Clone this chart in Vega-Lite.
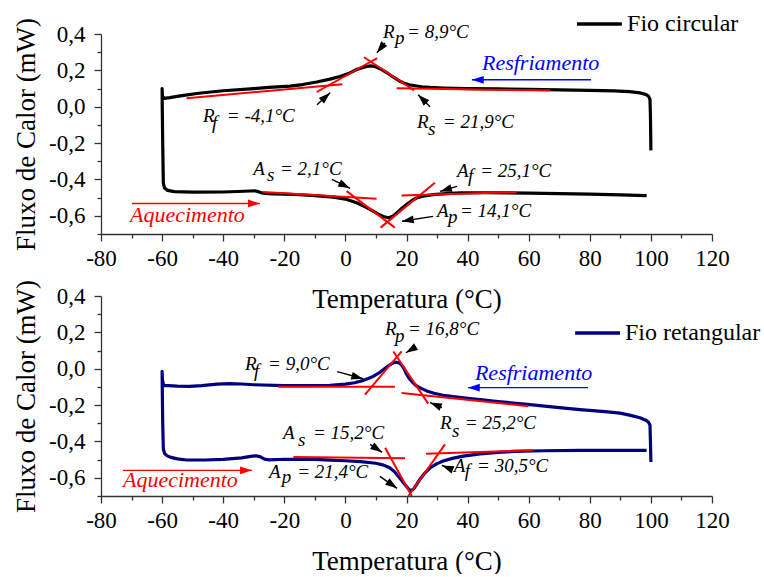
{
  "$schema": "https://vega.github.io/schema/vega-lite/v6.json",
  "padding": {"left": 12, "top": 11, "right": 0, "bottom": 0},
  "bounds": "flush",
  "spacing": 62,
  "config": {
    "locale": {"number": {"decimal": ",", "thousands": ".", "grouping": [3], "currency": ["", ""], "minus": "-"}},
    "view": {"stroke": null},
    "axis": {"labelFont": "Liberation Serif", "titleFont": "Liberation Serif", "labelFontSize": 23, "titleFontSize": 27, "titleFontWeight": "normal", "labelColor": "#000", "titleColor": "#000", "domainColor": "#333", "tickColor": "#333", "domainWidth": 1.3, "tickWidth": 1.3, "grid": false, "labelFlush": false, "labelOverlap": false, "tickCount": 100}
  },
  "datasets": {
    "c1": [
      {"i":1,"x":100,"y":-0.24},{"i":2,"x":99.85,"y":-0.05},{"i":3,"x":99.7,"y":0.04},{"i":4,"x":99.2,"y":0.058},{"i":5,"x":98.3,"y":0.068},{"i":6,"x":96.4,"y":0.076},{"i":7,"x":93,"y":0.083},{"i":8,"x":88,"y":0.087},{"i":9,"x":80,"y":0.09},{"i":10,"x":70,"y":0.093},{"i":11,"x":60,"y":0.096},{"i":12,"x":50,"y":0.098},{"i":13,"x":40,"y":0.1},{"i":14,"x":32,"y":0.103},{"i":15,"x":27.7,"y":0.106},{"i":16,"x":25,"y":0.11},{"i":17,"x":23.3,"y":0.114},{"i":18,"x":21,"y":0.12},{"i":19,"x":19.5,"y":0.127},{"i":20,"x":17.9,"y":0.14},{"i":21,"x":15.5,"y":0.165},{"i":22,"x":13.5,"y":0.188},{"i":23,"x":11.5,"y":0.208},{"i":24,"x":9.7,"y":0.221},{"i":25,"x":8.5,"y":0.225},{"i":26,"x":7,"y":0.222},{"i":27,"x":5.5,"y":0.215},{"i":28,"x":3.7,"y":0.205},{"i":29,"x":1,"y":0.182},{"i":30,"x":-1.8,"y":0.166},{"i":31,"x":-5,"y":0.152},{"i":32,"x":-9.4,"y":0.136},{"i":33,"x":-14,"y":0.122},{"i":34,"x":-18.1,"y":0.113},{"i":35,"x":-25,"y":0.106},{"i":36,"x":-30,"y":0.1},{"i":37,"x":-40,"y":0.088},{"i":38,"x":-48,"y":0.074},{"i":39,"x":-54,"y":0.06},{"i":40,"x":-57.5,"y":0.05},{"i":41,"x":-59.3,"y":0.046},{"i":42,"x":-59.9,"y":0.06},{"i":43,"x":-60,"y":0.1},{"i":44,"x":-59.95,"y":0.0},{"i":45,"x":-59.8,"y":-0.2},{"i":46,"x":-59.6,"y":-0.42},{"i":47,"x":-59.2,"y":-0.447},{"i":48,"x":-58.2,"y":-0.46},{"i":49,"x":-56,"y":-0.467},{"i":50,"x":-50,"y":-0.47},{"i":51,"x":-40,"y":-0.469},{"i":52,"x":-33,"y":-0.465},{"i":53,"x":-29.7,"y":-0.462},{"i":54,"x":-28.5,"y":-0.467},{"i":55,"x":-27,"y":-0.476},{"i":56,"x":-24,"y":-0.479},{"i":57,"x":-20,"y":-0.481},{"i":58,"x":-14.9,"y":-0.484},{"i":59,"x":-10,"y":-0.489},{"i":60,"x":-4,"y":-0.497},{"i":61,"x":0,"y":-0.508},{"i":62,"x":3.7,"y":-0.528},{"i":63,"x":6.5,"y":-0.55},{"i":64,"x":9.1,"y":-0.574},{"i":65,"x":11,"y":-0.593},{"i":66,"x":12.4,"y":-0.604},{"i":67,"x":14.1,"y":-0.611},{"i":68,"x":15.5,"y":-0.603},{"i":69,"x":16.8,"y":-0.584},{"i":70,"x":18.5,"y":-0.558},{"i":71,"x":20.1,"y":-0.537},{"i":72,"x":21.7,"y":-0.517},{"i":73,"x":23.3,"y":-0.502},{"i":74,"x":26,"y":-0.49},{"i":75,"x":28.8,"y":-0.483},{"i":76,"x":33,"y":-0.478},{"i":77,"x":37.5,"y":-0.474},{"i":78,"x":45,"y":-0.473},{"i":79,"x":60,"y":-0.475},{"i":80,"x":70,"y":-0.478},{"i":81,"x":80,"y":-0.481},{"i":82,"x":90,"y":-0.485},{"i":83,"x":98.6,"y":-0.489}
    ],
    "c2": [
      {"i":1,"x":100,"y":-0.513},{"i":2,"x":99.85,"y":-0.4},{"i":3,"x":99.7,"y":-0.31},{"i":4,"x":99.2,"y":-0.294},{"i":5,"x":98.5,"y":-0.285},{"i":6,"x":96.4,"y":-0.27},{"i":7,"x":93,"y":-0.255},{"i":8,"x":89.9,"y":-0.244},{"i":9,"x":85,"y":-0.236},{"i":10,"x":76.8,"y":-0.225},{"i":11,"x":70,"y":-0.214},{"i":12,"x":60.4,"y":-0.197},{"i":13,"x":50,"y":-0.181},{"i":14,"x":44.1,"y":-0.17},{"i":15,"x":40.8,"y":-0.164},{"i":16,"x":36,"y":-0.155},{"i":17,"x":32,"y":-0.146},{"i":18,"x":29,"y":-0.135},{"i":19,"x":26.6,"y":-0.122},{"i":20,"x":24.8,"y":-0.108},{"i":21,"x":23.3,"y":-0.095},{"i":22,"x":22.2,"y":-0.078},{"i":23,"x":21.1,"y":-0.058},{"i":24,"x":20,"y":-0.03},{"i":25,"x":19.2,"y":0.0},{"i":26,"x":18.4,"y":0.02},{"i":27,"x":17.5,"y":0.033},{"i":28,"x":16.8,"y":0.036},{"i":29,"x":15.8,"y":0.033},{"i":30,"x":15.2,"y":0.028},{"i":31,"x":14,"y":0.015},{"i":32,"x":13,"y":0.003},{"i":33,"x":11,"y":-0.023},{"i":34,"x":9.1,"y":-0.042},{"i":35,"x":7.5,"y":-0.054},{"i":36,"x":5.9,"y":-0.064},{"i":37,"x":3,"y":-0.077},{"i":38,"x":0,"y":-0.085},{"i":39,"x":-5,"y":-0.091},{"i":40,"x":-10,"y":-0.093},{"i":41,"x":-20,"y":-0.093},{"i":42,"x":-30,"y":-0.088},{"i":43,"x":-34,"y":-0.084},{"i":44,"x":-38,"y":-0.082},{"i":45,"x":-42,"y":-0.085},{"i":46,"x":-47,"y":-0.093},{"i":47,"x":-51,"y":-0.097},{"i":48,"x":-55,"y":-0.096},{"i":49,"x":-58,"y":-0.093},{"i":50,"x":-59.5,"y":-0.092},{"i":51,"x":-59.9,"y":-0.06},{"i":52,"x":-60,"y":-0.015},{"i":53,"x":-59.95,"y":-0.1},{"i":54,"x":-59.8,"y":-0.3},{"i":55,"x":-59.6,"y":-0.44},{"i":56,"x":-59.2,"y":-0.466},{"i":57,"x":-58.4,"y":-0.478},{"i":58,"x":-57.4,"y":-0.486},{"i":59,"x":-55,"y":-0.496},{"i":60,"x":-52,"y":-0.502},{"i":61,"x":-46,"y":-0.502},{"i":62,"x":-40,"y":-0.499},{"i":63,"x":-34,"y":-0.49},{"i":64,"x":-30.5,"y":-0.481},{"i":65,"x":-29.2,"y":-0.479},{"i":66,"x":-27.8,"y":-0.485},{"i":67,"x":-26.5,"y":-0.497},{"i":68,"x":-25,"y":-0.501},{"i":69,"x":-20,"y":-0.498},{"i":70,"x":-10,"y":-0.499},{"i":71,"x":-5,"y":-0.503},{"i":72,"x":0,"y":-0.506},{"i":73,"x":5,"y":-0.511},{"i":74,"x":10,"y":-0.52},{"i":75,"x":12.5,"y":-0.53},{"i":76,"x":14.5,"y":-0.545},{"i":77,"x":16,"y":-0.565},{"i":78,"x":17.5,"y":-0.595},{"i":79,"x":19,"y":-0.627},{"i":80,"x":20.5,"y":-0.658},{"i":81,"x":21.4,"y":-0.672},{"i":82,"x":22.4,"y":-0.66},{"i":83,"x":23.4,"y":-0.635},{"i":84,"x":24.4,"y":-0.608},{"i":85,"x":26,"y":-0.574},{"i":86,"x":27.7,"y":-0.545},{"i":87,"x":30,"y":-0.522},{"i":88,"x":32,"y":-0.508},{"i":89,"x":35,"y":-0.493},{"i":90,"x":38.6,"y":-0.481},{"i":91,"x":44.1,"y":-0.468},{"i":92,"x":50,"y":-0.46},{"i":93,"x":55,"y":-0.455},{"i":94,"x":65,"y":-0.451},{"i":95,"x":76.8,"y":-0.449},{"i":96,"x":90,"y":-0.449},{"i":97,"x":98.6,"y":-0.449}
    ],
    "t1": [
      {"x":-52,"y":0.046,"x2":-1,"y2":0.124},
      {"x":-9.4,"y":0.081,"x2":10.4,"y2":0.267},
      {"x":6.1,"y":0.272,"x2":22.5,"y2":0.09},
      {"x":16.8,"y":0.102,"x2":67,"y2":0.089},
      {"x":-27,"y":-0.469,"x2":10.2,"y2":-0.506},
      {"x":0.4,"y":-0.464,"x2":16.2,"y2":-0.665},
      {"x":11.5,"y":-0.665,"x2":29.3,"y2":-0.418},
      {"x":18.4,"y":-0.488,"x2":56.1,"y2":-0.469}
    ],
    "t2": [
      {"x":-22,"y":-0.099,"x2":16.2,"y2":-0.099},
      {"x":6.4,"y":-0.142,"x2":18.4,"y2":0.095},
      {"x":15.7,"y":0.095,"x2":27.1,"y2":-0.192},
      {"x":18.4,"y":-0.133,"x2":59.9,"y2":-0.206},
      {"x":-17,"y":-0.486,"x2":19.5,"y2":-0.493},
      {"x":13,"y":-0.435,"x2":21.7,"y2":-0.7},
      {"x":20.6,"y":-0.7,"x2":32.6,"y2":-0.416},
      {"x":26.4,"y":-0.467,"x2":61.5,"y2":-0.448}
    ],
    "n1": [
      {"x":12.3,"y":0.378,"t":"R"},{"x":16.2,"y":0.345,"t":"p"},{"x":20.2,"y":0.378,"t":"= 8,9°C"},
      {"x":-46.6,"y":-0.082,"t":"R"},{"x":-43.7,"y":-0.121,"t":"f"},{"x":-38.8,"y":-0.082,"t":"= -4,1°C"},
      {"x":23.4,"y":-0.115,"t":"R"},{"x":27.0,"y":-0.153,"t":"s"},{"x":31.9,"y":-0.115,"t":"= 21,9°C"},
      {"x":-30.2,"y":-0.373,"t":"A"},{"x":-25.7,"y":-0.411,"t":"s"},{"x":-21.4,"y":-0.373,"t":"= 2,1°C"},
      {"x":36.5,"y":-0.384,"t":"A"},{"x":40.1,"y":-0.416,"t":"f"},{"x":44.1,"y":-0.384,"t":"= 25,1°C"},
      {"x":30.0,"y":-0.608,"t":"A"},{"x":33.6,"y":-0.641,"t":"p"},{"x":37.5,"y":-0.608,"t":"= 14,1°C"}
    ],
    "n2": [
      {"x":12.96,"y":0.186,"t":"R"},{"x":16.2,"y":0.148,"t":"p"},{"x":20.5,"y":0.186,"t":"= 16,8°C"},
      {"x":-32.9,"y":-0.005,"t":"R"},{"x":-29.9,"y":-0.044,"t":"f"},{"x":-25.3,"y":-0.005,"t":"= 9,0°C"},
      {"x":31.0,"y":-0.334,"t":"R"},{"x":34.9,"y":-0.373,"t":"s"},{"x":39.1,"y":-0.334,"t":"= 25,2°C"},
      {"x":-20.4,"y":-0.389,"t":"A"},{"x":-15.5,"y":-0.427,"t":"s"},{"x":-10.6,"y":-0.389,"t":"= 15,2°C"},
      {"x":-25.0,"y":-0.603,"t":"A"},{"x":-20.8,"y":-0.63,"t":"p"},{"x":-15.8,"y":-0.603,"t":"= 21,4°C"},
      {"x":35.5,"y":-0.57,"t":"A"},{"x":39.1,"y":-0.597,"t":"f"},{"x":43.1,"y":-0.57,"t":"= 30,5°C"}
    ],
    "l1": [
      {"x":-70.5,"y":-0.636,"k":"Aquecimento"},
      {"x":44.7,"y":0.203,"k":"Resfriamento"}
    ],
    "l2": [
      {"x":-72.8,"y":-0.652,"k":"Aquecimento"},
      {"x":42.4,"y":-0.06,"k":"Resfriamento"}
    ],
    "a1": [
      {"x":-69.9,"y":-0.532,"x2":-28.0,"y2":-0.532,"ang":90,"k":"Aquecimento"},
      {"x":80.4,"y":0.148,"x2":41.4,"y2":0.148,"ang":270,"k":"Resfriamento"},
      {"x":12.96,"y":0.351,"x2":10.3,"y2":0.296,"ang":218.7,"k":"nota"},
      {"x":-9.3,"y":0.011,"x2":-5.0,"y2":0.077,"ang":47.3,"k":"nota"},
      {"x":27.7,"y":0.0,"x2":23.8,"y2":0.066,"ang":315,"k":"nota"},
      {"x":-4.4,"y":-0.4,"x2":1.5,"y2":-0.449,"ang":116.6,"k":"nota"},
      {"x":36.5,"y":-0.438,"x2":31.0,"y2":-0.466,"ang":253.6,"k":"nota"},
      {"x":28.7,"y":-0.603,"x2":18.5,"y2":-0.63,"ang":260.8,"k":"nota"}
    ],
    "a2": [
      {"x":-72.8,"y":-0.559,"x2":-30.6,"y2":-0.559,"ang":90,"k":"Aquecimento"},
      {"x":79.4,"y":-0.104,"x2":40.1,"y2":-0.104,"ang":270,"k":"Resfriamento"},
      {"x":23.1,"y":0.121,"x2":19.8,"y2":0.088,"ang":239,"k":"nota"},
      {"x":-2.7,"y":-0.016,"x2":5.8,"y2":-0.055,"ang":105,"k":"nota"},
      {"x":31.6,"y":-0.214,"x2":27.7,"y2":-0.186,"ang":292.6,"k":"nota"},
      {"x":8.05,"y":-0.416,"x2":12.0,"y2":-0.46,"ang":123.7,"k":"nota"},
      {"x":11.3,"y":-0.592,"x2":16.9,"y2":-0.658,"ang":125.2,"k":"nota"},
      {"x":34.9,"y":-0.553,"x2":31.6,"y2":-0.532,"ang":291.8,"k":"nota"}
    ],
    "g1": [{"x":75.8,"x2":90.5,"y":0.455,"tx":92.2,"t":"Fio circular"}],
    "g2": [{"x":75.2,"x2":89.9,"y":0.197,"tx":91.5,"t":"Fio retangular"}]
  },
  "vconcat": [
    {
      "width": 611, "height": 200,
      "layer": [
        {
          "data": {"name": "c1"},
          "mark": {"type": "line", "color": "#000000", "strokeWidth": 3.2, "strokeJoin": "round"},
          "encoding": {
            "x": {"field": "x", "type": "quantitative", "scale": {"domain": [-80, 120], "nice": false, "zero": false},
              "axis": {"values": [-80,-70,-60,-50,-40,-30,-20,-10,0,10,20,30,40,50,60,70,80,90,100,110,120], "tickCount": 100, "format": "d", "labelExpr": "datum.value % 20 != 0 ? '' : datum.label", "tickSize": {"condition": {"test": "datum.value % 20 != 0", "value": 4}, "value": 7}, "labelPadding": 6, "title": "Temperatura (°C)", "titlePadding": 16}},
            "y": {"field": "y", "type": "quantitative", "scale": {"domain": [-0.7, 0.4], "nice": false, "zero": false},
              "axis": {"values": [-0.7,-0.6,-0.5,-0.4,-0.3,-0.2,-0.1,0,0.1,0.2,0.3,0.4], "tickCount": 100, "format": ".1f", "labelExpr": "round(datum.value*10) % 2 != 0 ? '' : datum.label", "tickSize": {"condition": {"test": "round(datum.value*10) % 2 != 0", "value": 4}, "value": 7}, "labelPadding": 9, "title": "Fluxo de Calor (mW)", "titlePadding": 8}},
            "order": {"field": "i", "type": "quantitative"}
          }
        },
        {
          "data": {"name": "t1"},
          "mark": {"type": "rule", "color": "#ff0000", "strokeWidth": 2},
          "encoding": {"x": {"field": "x", "type": "quantitative"}, "y": {"field": "y", "type": "quantitative"}, "x2": {"field": "x2"}, "y2": {"field": "y2"}}
        },
        {
          "data": {"name": "n1"},
          "mark": {"type": "text", "font": "Liberation Serif", "fontStyle": "italic", "fontSize": 19, "align": "left", "baseline": "alphabetic", "color": "#000000"},
          "encoding": {"x": {"field": "x", "type": "quantitative"}, "y": {"field": "y", "type": "quantitative"}, "text": {"field": "t"}}
        },
        {
          "data": {"name": "l1"},
          "mark": {"type": "text", "font": "Liberation Serif", "fontStyle": "italic", "fontSize": 22, "align": "left", "baseline": "alphabetic"},
          "encoding": {"x": {"field": "x", "type": "quantitative"}, "y": {"field": "y", "type": "quantitative"}, "text": {"field": "k"},
            "color": {"field": "k", "type": "nominal", "scale": {"domain": ["Aquecimento", "Resfriamento", "nota"], "range": ["#ff0000", "#0000ff", "#000000"]}, "legend": null}}
        },
        {
          "data": {"name": "a1"},
          "mark": {"type": "rule", "strokeWidth": 1.4},
          "encoding": {"x": {"field": "x", "type": "quantitative"}, "y": {"field": "y", "type": "quantitative"}, "x2": {"field": "x2"}, "y2": {"field": "y2"},
            "color": {"field": "k", "type": "nominal", "scale": {"domain": ["Aquecimento", "Resfriamento", "nota"], "range": ["#ff0000", "#0000ff", "#000000"]}, "legend": null}}
        },
        {
          "data": {"name": "a1"},
          "mark": {"type": "point", "shape": "M0,0L0.33,1L-0.33,1Z", "filled": true, "opacity": 1},
          "encoding": {"x": {"field": "x2", "type": "quantitative"}, "y": {"field": "y2", "type": "quantitative"},
            "angle": {"field": "ang", "type": "quantitative", "scale": null},
            "size": {"field": "k", "type": "nominal", "scale": {"domain": ["Aquecimento", "Resfriamento", "nota"], "range": [560, 560, 300]}, "legend": null},
            "color": {"field": "k", "type": "nominal", "scale": {"domain": ["Aquecimento", "Resfriamento", "nota"], "range": ["#ff0000", "#0000ff", "#000000"]}, "legend": null}}
        },
        {
          "data": {"name": "g1"},
          "mark": {"type": "rule", "color": "#000000", "strokeWidth": 3.5},
          "encoding": {"x": {"field": "x", "type": "quantitative"}, "x2": {"field": "x2"}, "y": {"field": "y", "type": "quantitative"}}
        },
        {
          "data": {"name": "g1"},
          "mark": {"type": "text", "font": "Liberation Serif", "fontSize": 24, "align": "left", "baseline": "middle", "color": "#000000"},
          "encoding": {"x": {"field": "tx", "type": "quantitative"}, "y": {"field": "y", "type": "quantitative"}, "text": {"field": "t"}}
        }
      ]
    },
    {
      "width": 611, "height": 200,
      "layer": [
        {
          "data": {"name": "c2"},
          "mark": {"type": "line", "color": "#000080", "strokeWidth": 3.2, "strokeJoin": "round"},
          "encoding": {
            "x": {"field": "x", "type": "quantitative", "scale": {"domain": [-80, 120], "nice": false, "zero": false},
              "axis": {"values": [-80,-70,-60,-50,-40,-30,-20,-10,0,10,20,30,40,50,60,70,80,90,100,110,120], "tickCount": 100, "format": "d", "labelExpr": "datum.value % 20 != 0 ? '' : datum.label", "tickSize": {"condition": {"test": "datum.value % 20 != 0", "value": 4}, "value": 7}, "labelPadding": 6, "title": "Temperatura (°C)", "titlePadding": 16}},
            "y": {"field": "y", "type": "quantitative", "scale": {"domain": [-0.7, 0.4], "nice": false, "zero": false},
              "axis": {"values": [-0.7,-0.6,-0.5,-0.4,-0.3,-0.2,-0.1,0,0.1,0.2,0.3,0.4], "tickCount": 100, "format": ".1f", "labelExpr": "round(datum.value*10) % 2 != 0 ? '' : datum.label", "tickSize": {"condition": {"test": "round(datum.value*10) % 2 != 0", "value": 4}, "value": 7}, "labelPadding": 9, "title": "Fluxo de Calor (mW)", "titlePadding": 8}},
            "order": {"field": "i", "type": "quantitative"}
          }
        },
        {
          "data": {"name": "t2"},
          "mark": {"type": "rule", "color": "#ff0000", "strokeWidth": 2},
          "encoding": {"x": {"field": "x", "type": "quantitative"}, "y": {"field": "y", "type": "quantitative"}, "x2": {"field": "x2"}, "y2": {"field": "y2"}}
        },
        {
          "data": {"name": "n2"},
          "mark": {"type": "text", "font": "Liberation Serif", "fontStyle": "italic", "fontSize": 19, "align": "left", "baseline": "alphabetic", "color": "#000000"},
          "encoding": {"x": {"field": "x", "type": "quantitative"}, "y": {"field": "y", "type": "quantitative"}, "text": {"field": "t"}}
        },
        {
          "data": {"name": "l2"},
          "mark": {"type": "text", "font": "Liberation Serif", "fontStyle": "italic", "fontSize": 22, "align": "left", "baseline": "alphabetic"},
          "encoding": {"x": {"field": "x", "type": "quantitative"}, "y": {"field": "y", "type": "quantitative"}, "text": {"field": "k"},
            "color": {"field": "k", "type": "nominal", "scale": {"domain": ["Aquecimento", "Resfriamento", "nota"], "range": ["#ff0000", "#0000ff", "#000000"]}, "legend": null}}
        },
        {
          "data": {"name": "a2"},
          "mark": {"type": "rule", "strokeWidth": 1.4},
          "encoding": {"x": {"field": "x", "type": "quantitative"}, "y": {"field": "y", "type": "quantitative"}, "x2": {"field": "x2"}, "y2": {"field": "y2"},
            "color": {"field": "k", "type": "nominal", "scale": {"domain": ["Aquecimento", "Resfriamento", "nota"], "range": ["#ff0000", "#0000ff", "#000000"]}, "legend": null}}
        },
        {
          "data": {"name": "a2"},
          "mark": {"type": "point", "shape": "M0,0L0.33,1L-0.33,1Z", "filled": true, "opacity": 1},
          "encoding": {"x": {"field": "x2", "type": "quantitative"}, "y": {"field": "y2", "type": "quantitative"},
            "angle": {"field": "ang", "type": "quantitative", "scale": null},
            "size": {"field": "k", "type": "nominal", "scale": {"domain": ["Aquecimento", "Resfriamento", "nota"], "range": [560, 560, 300]}, "legend": null},
            "color": {"field": "k", "type": "nominal", "scale": {"domain": ["Aquecimento", "Resfriamento", "nota"], "range": ["#ff0000", "#0000ff", "#000000"]}, "legend": null}}
        },
        {
          "data": {"name": "g2"},
          "mark": {"type": "rule", "color": "#000080", "strokeWidth": 3.5},
          "encoding": {"x": {"field": "x", "type": "quantitative"}, "x2": {"field": "x2"}, "y": {"field": "y", "type": "quantitative"}}
        },
        {
          "data": {"name": "g2"},
          "mark": {"type": "text", "font": "Liberation Serif", "fontSize": 24, "align": "left", "baseline": "middle", "color": "#000000"},
          "encoding": {"x": {"field": "tx", "type": "quantitative"}, "y": {"field": "y", "type": "quantitative"}, "text": {"field": "t"}}
        }
      ]
    }
  ]
}
